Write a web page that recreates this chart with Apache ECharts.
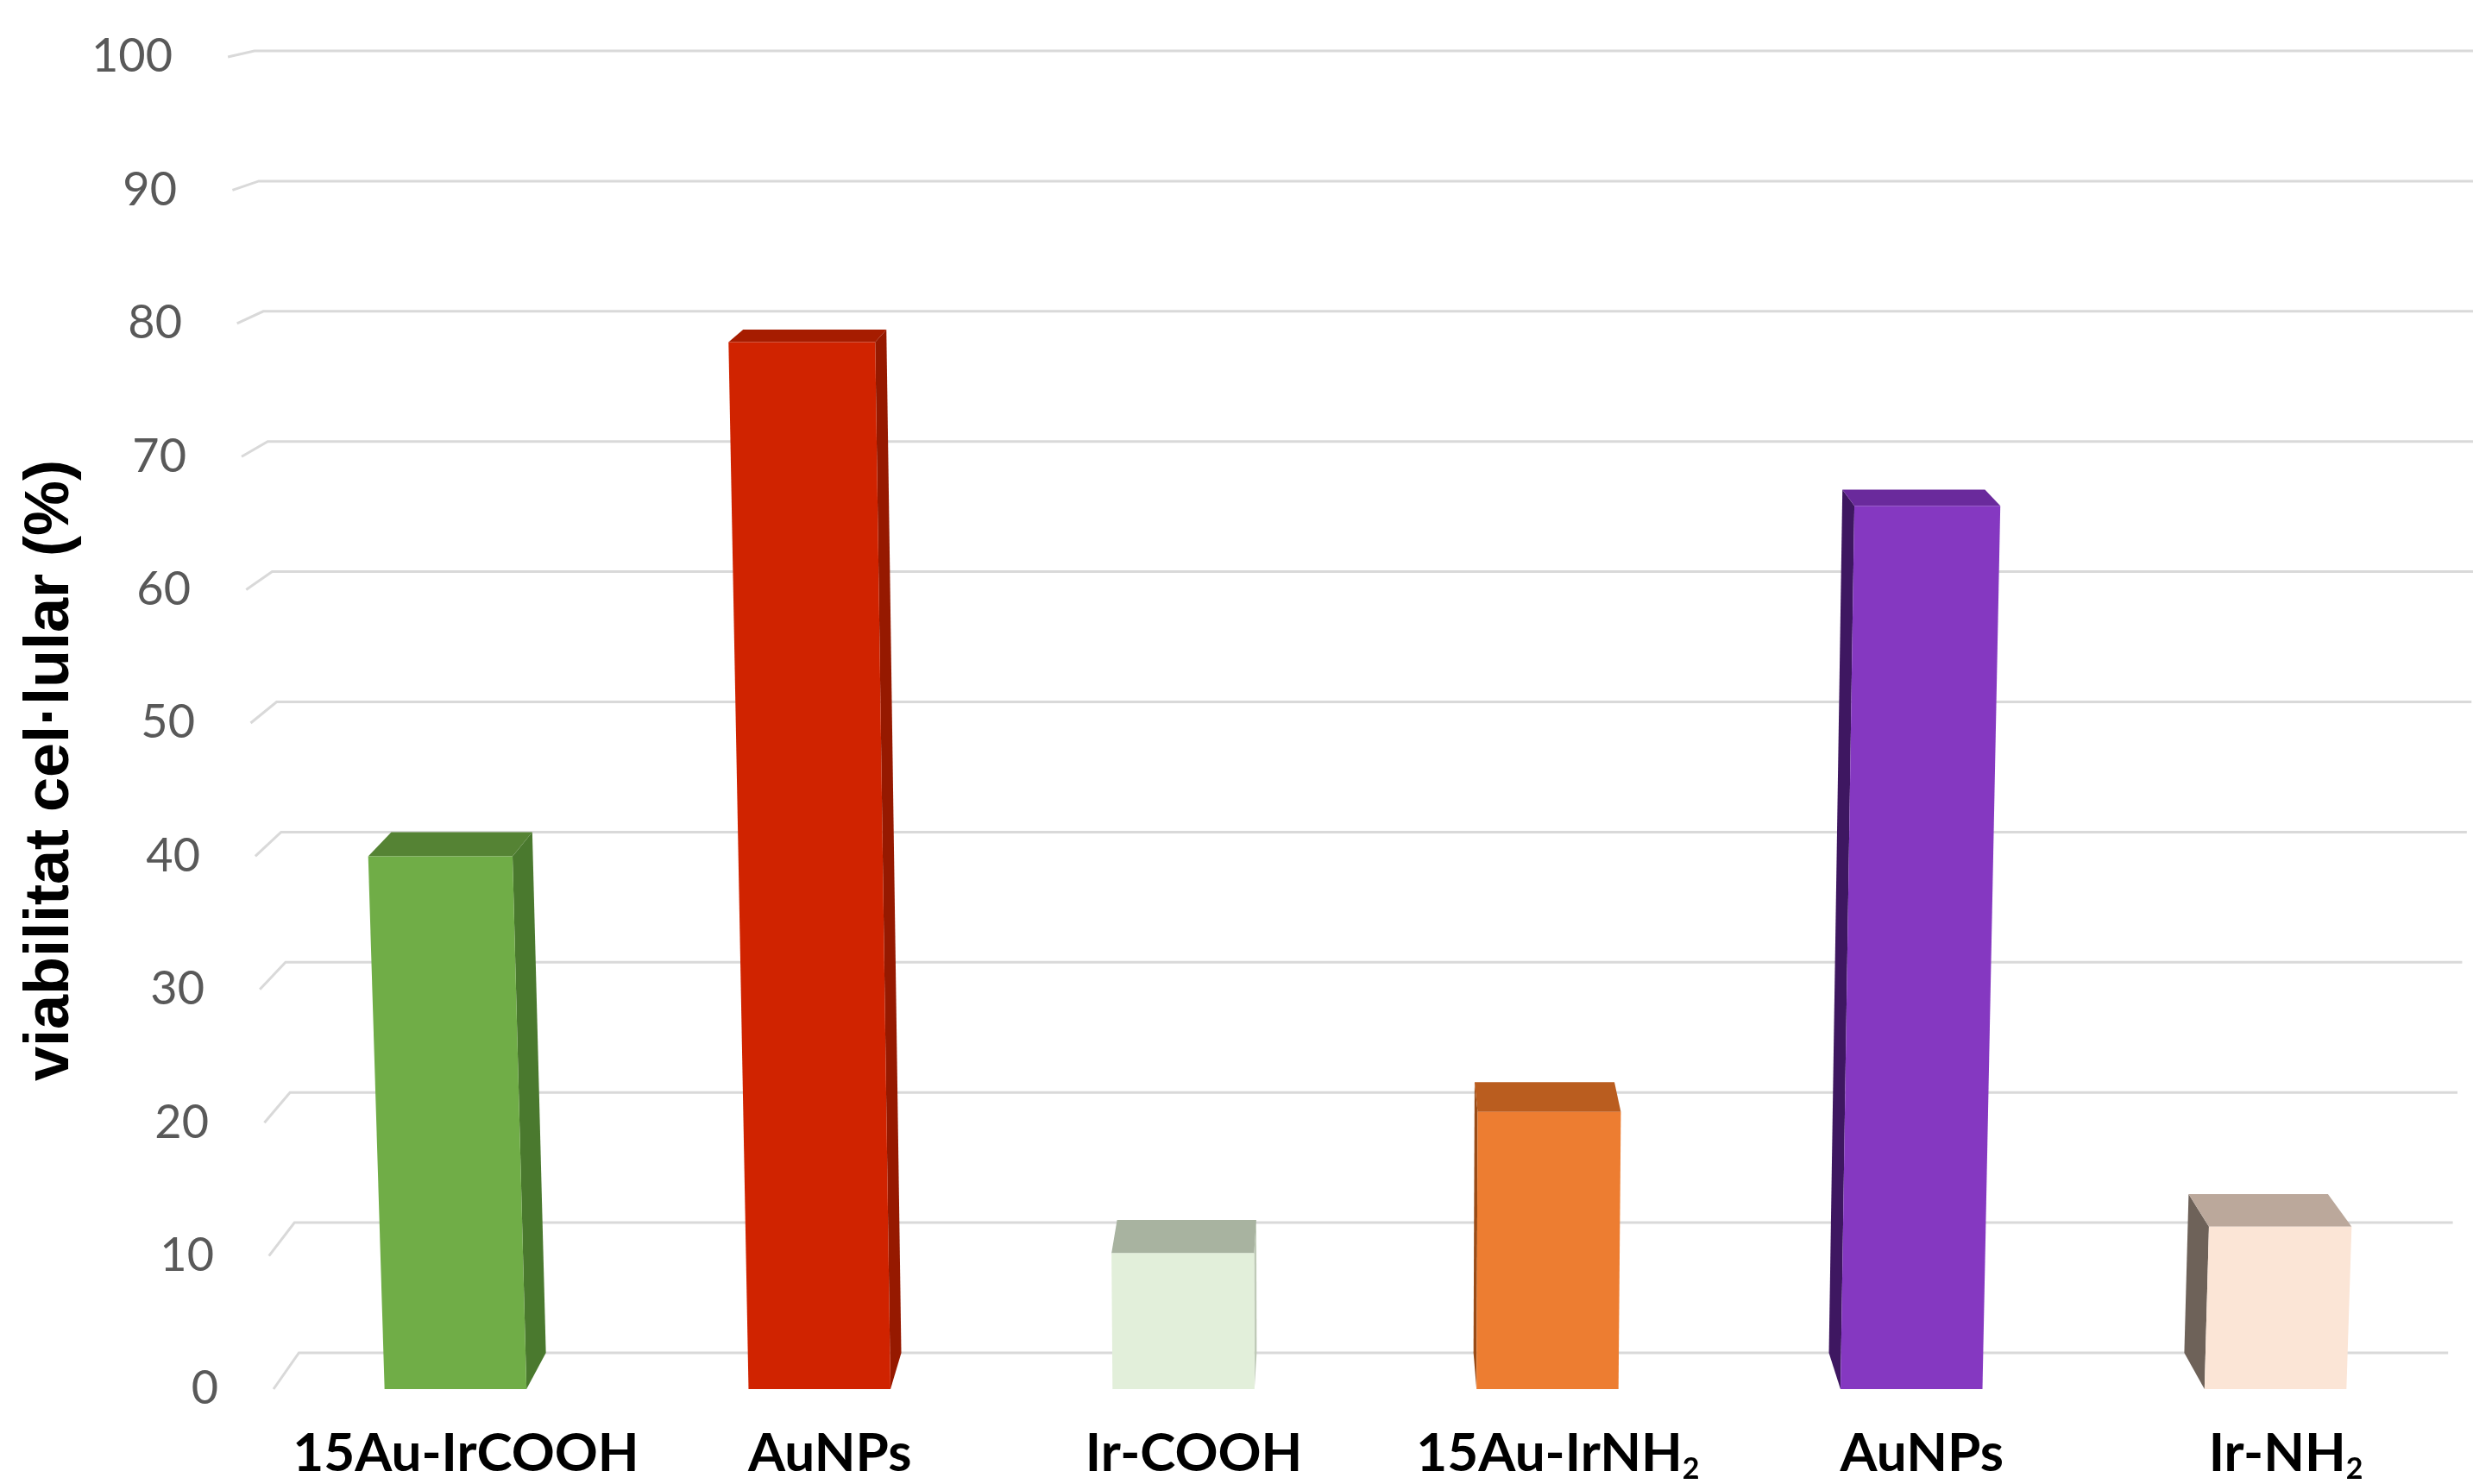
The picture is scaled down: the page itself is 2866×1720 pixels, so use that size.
<!DOCTYPE html>
<html>
<head>
<meta charset="utf-8">
<script src="https://cdn.jsdelivr.net/npm/echarts@6/dist/echarts.min.js"></script>
<style>
  html, body { margin: 0; padding: 0; background: #ffffff; }
  #chart { width: 2866px; height: 1720px; }
</style>
</head>
<body>
<div id="chart"></div>
<script>
// Cell viability per treatment
const categories = ['15Au-IrCOOH', 'AuNPs', 'Ir-COOH', '15Au-IrNH2', 'AuNPs', 'Ir-NH2'];
const viability = [40, 78.6, 10.2, 20.8, 66.3, 12.2];
const yTicks = [0, 10, 20, 30, 40, 50, 60, 70, 80, 90, 100];
const yTitle = 'viabilitat cel·lular (%)';

// Face colours of each column: front, top, side
const barPalette = [
  { front: '#70AD47', top: '#558334', side: '#4A792E' },
  { front: '#D02300', top: '#A61C00', side: '#961900' },
  { front: '#E2EFDA', top: '#A8B3A0', side: '#BFCAB7' },
  { front: '#ED7D31', top: '#BA5D1F', side: '#9A4C17' },
  { front: '#8538C1', top: '#6A2A9C', side: '#3E1761' },
  { front: '#FBE5D6', top: '#BBA89B', side: '#6E6259' }
];

// Perspective of the 3-D frame
const GRID = { left: 317, right: 18, top: 66, bottom: 105 };
const BACK_Y0 = 1568, BACK_Y100 = 59;   // back wall floor / top line
const LEAN = 2.75e-5;                    // vertical edges spread upwards
const DEPTH = 0.0236;                    // depth recession towards vanishing x
const BAR_RATIO = 0.39;

function frame(cs) {
  const y0 = cs.y + cs.height;
  const xv = cs.x + cs.width / 2 - 20;
  const scaleBack = (BACK_Y0 - BACK_Y100) / cs.height;
  return {
    y0, xv,
    front(x, y) { return [x + (x - xv) * LEAN * (y0 - y), y]; },
    back(p) { return [p[0] + (xv - p[0]) * DEPTH, BACK_Y0 - (y0 - p[1]) * scaleBack]; }
  };
}

const chart = echarts.init(document.getElementById('chart'), null, { renderer: 'canvas' });

// tick labels follow the slanted front edge of the frame
const labelPad = {};
yTicks.forEach(function (t) {
  const h = (1720 - GRID.bottom - GRID.top) * t / 100;
  const xv = GRID.left + (2866 - GRID.left - GRID.right) / 2 - 20;
  labelPad['p' + t] = {
    fontSize: 54, fontFamily: 'Lato', color: '#595959',
    padding: [0, Math.round((xv - GRID.left) * LEAN * h), 0, 0]
  };
});

const option = {
  backgroundColor: '#ffffff',
  animation: false,
  grid: { left: GRID.left, right: GRID.right, top: GRID.top, bottom: GRID.bottom, containLabel: false },
  xAxis: {
    type: 'category',
    data: categories,
    axisLine: { show: false },
    axisTick: { show: false },
    splitLine: { show: false },
    axisLabel: {
      interval: 0,
      margin: 44,
      padding: [0, 0, 0, 24],
      formatter: function (name) {
        const m = name.match(/^(.*NH)2$/);
        return m ? '{b|' + m[1] + '}{s|2}' : '{b|' + name + '}';
      },
      rich: {
        b: { fontSize: 62, fontWeight: 'bold', fontFamily: 'Lato', color: '#000000', verticalAlign: 'top' },
        s: { fontSize: 34, fontWeight: 'bold', fontFamily: 'Lato', color: '#000000', verticalAlign: 'top', padding: [32, 0, 0, 0] }
      }
    }
  },
  yAxis: {
    type: 'value',
    min: 0, max: 100, interval: 10,
    axisLine: { show: false },
    axisTick: { show: false },
    splitLine: { show: false },
    axisLabel: {
      margin: 64,
      formatter: function (v) { return '{p' + v + '|' + v + '}'; },
      rich: labelPad
    },
    name: yTitle,
    nameLocation: 'middle',
    nameRotate: 90,
    nameGap: 199,
    nameTextStyle: {
      fontFamily: 'Liberation Sans', fontWeight: 'bold', fontSize: 72, color: '#000000',
      padding: [0, 110, 0, 0]
    }
  },
  series: [
    {
      // back wall grid lines with their floor-edge returns
      type: 'custom',
      z: 1,
      silent: true,
      clip: false,
      data: yTicks.map(function (t) { return [0, t]; }),
      renderItem: function (params, api) {
        const cs = params.coordSys;
        const f = frame(cs);
        const y = api.coord([0, api.value(1)])[1];
        const pl = f.front(cs.x, y);
        const pr = f.front(cs.x + cs.width + 20, y);
        return {
          type: 'polyline',
          shape: { points: [pl, f.back(pl), f.back(pr)] },
          style: { stroke: '#D9D9D9', lineWidth: 3, fill: null }
        };
      }
    },
    {
      // 3-D columns
      type: 'custom',
      z: 2,
      clip: false,
      data: viability.map(function (v, i) { return [i, v]; }),
      renderItem: function (params, api) {
        const cs = params.coordSys;
        const f = frame(cs);
        const i = api.value(0);
        const base = api.coord([i, 0]);
        const top = api.coord([i, api.value(1)]);
        const hw = api.size([1, 0])[0] * BAR_RATIO / 2;
        const cx = base[0];
        const FL0 = f.front(cx - hw, base[1]), FR0 = f.front(cx + hw, base[1]);
        const FLt = f.front(cx - hw, top[1]), FRt = f.front(cx + hw, top[1]);
        const BLt = f.back(FLt), BRt = f.back(FRt), BL0 = f.back(FL0), BR0 = f.back(FR0);
        const c = barPalette[i];
        const side = cx < f.xv ? [FRt, BRt, BR0, FR0] : [FLt, BLt, BL0, FL0];
        return {
          type: 'group',
          children: [
            { type: 'polygon', shape: { points: side }, style: { fill: c.side } },
            { type: 'polygon', shape: { points: [FLt, FRt, BRt, BLt] }, style: { fill: c.top } },
            { type: 'polygon', shape: { points: [FL0, FR0, FRt, FLt] }, style: { fill: c.front } }
          ]
        };
      }
    }
  ]
};

chart.setOption(option);
</script>
</body>
</html>
